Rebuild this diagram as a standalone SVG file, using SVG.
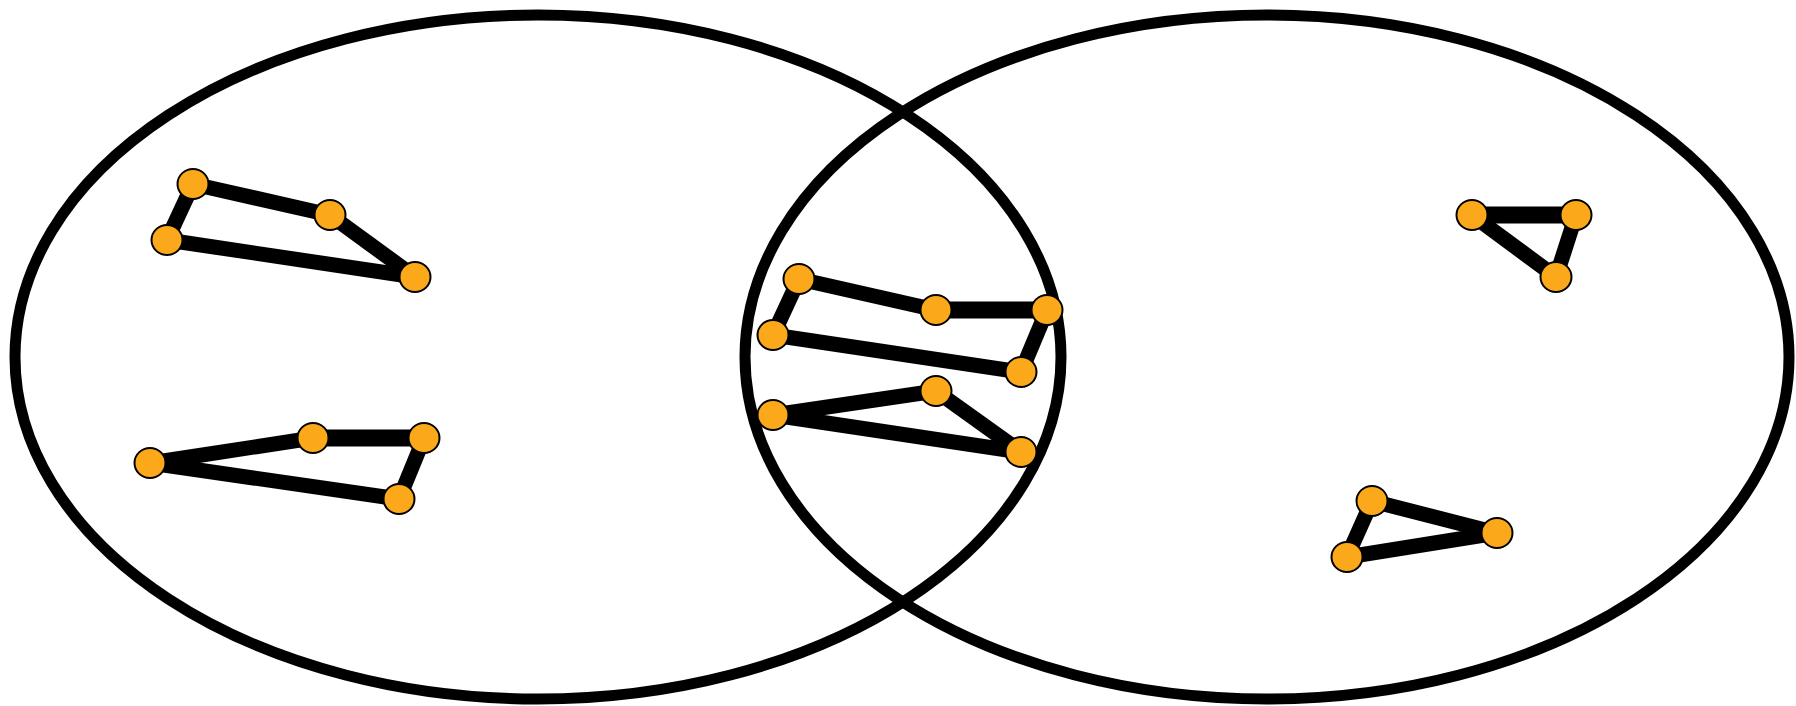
<svg xmlns="http://www.w3.org/2000/svg" width="1796" height="706" viewBox="0 0 1796 706">
<style>
.set{fill:none;stroke:#000;stroke-width:11}
.e{stroke:#000;stroke-width:15;stroke-linecap:butt}
.h{stroke-width:17}
.n{fill:#FBA81B;stroke:#000;stroke-width:2}
</style>
<rect width="1796" height="706" fill="#fff"/>
<g id="sets">
<ellipse id="set-left" class="set" cx="538" cy="357" rx="523" ry="342"/>
<ellipse id="set-right" class="set" cx="1267" cy="357" rx="522" ry="342"/>
</g>
<g id="connectors">
<line class="e" x1="193" y1="184" x2="330" y2="215"/>
<line class="e" x1="193" y1="184" x2="167" y2="240"/>
<line class="e" x1="167" y1="240" x2="415" y2="277"/>
<line class="e" x1="330" y1="215" x2="415" y2="277"/>
<line class="e" x1="150" y1="463" x2="313" y2="438"/>
<line class="e h" x1="313" y1="438" x2="424" y2="438"/>
<line class="e" x1="424" y1="438" x2="399" y2="499"/>
<line class="e" x1="150" y1="463" x2="399" y2="499"/>
<line class="e" x1="799" y1="279" x2="936" y2="310"/>
<line class="e h" x1="936" y1="310" x2="1047" y2="310"/>
<line class="e" x1="1047" y1="310" x2="1021" y2="372"/>
<line class="e" x1="799" y1="279" x2="773" y2="335"/>
<line class="e" x1="773" y1="335" x2="1021" y2="372"/>
<line class="e" x1="773" y1="415" x2="936" y2="391"/>
<line class="e" x1="936" y1="391" x2="1021" y2="452"/>
<line class="e" x1="773" y1="415" x2="1021" y2="452"/>
<line class="e h" x1="1472" y1="215" x2="1576" y2="215"/>
<line class="e" x1="1576" y1="215" x2="1556" y2="277"/>
<line class="e" x1="1472" y1="215" x2="1556" y2="277"/>
<line class="e" x1="1372" y1="501" x2="1497" y2="533"/>
<line class="e" x1="1372" y1="501" x2="1347" y2="557"/>
<line class="e" x1="1347" y1="557" x2="1497" y2="533"/>
</g>
<g id="node-a1"><ellipse class="n" cx="193" cy="184" rx="15.5" ry="15"/></g>
<g id="node-a2"><ellipse class="n" cx="330" cy="215" rx="15.5" ry="15"/></g>
<g id="node-a3"><ellipse class="n" cx="167" cy="240" rx="15.5" ry="15"/></g>
<g id="node-a4"><ellipse class="n" cx="415" cy="277" rx="15.5" ry="15"/></g>
<g id="node-b1"><ellipse class="n" cx="150" cy="463" rx="15.5" ry="15"/></g>
<g id="node-b2"><ellipse class="n" cx="313" cy="438" rx="15.5" ry="15"/></g>
<g id="node-b3"><ellipse class="n" cx="424" cy="438" rx="15.5" ry="15"/></g>
<g id="node-b4"><ellipse class="n" cx="399" cy="499" rx="15.5" ry="15"/></g>
<g id="node-m1"><ellipse class="n" cx="799" cy="279" rx="15.5" ry="15"/></g>
<g id="node-m2"><ellipse class="n" cx="936" cy="310" rx="15.5" ry="15"/></g>
<g id="node-m3"><ellipse class="n" cx="1047" cy="310" rx="15.5" ry="15"/></g>
<g id="node-m4"><ellipse class="n" cx="773" cy="335" rx="15.5" ry="15"/></g>
<g id="node-m5"><ellipse class="n" cx="1021" cy="372" rx="15.5" ry="15"/></g>
<g id="node-m6"><ellipse class="n" cx="936" cy="391" rx="15.5" ry="15"/></g>
<g id="node-m7"><ellipse class="n" cx="773" cy="415" rx="15.5" ry="15"/></g>
<g id="node-m8"><ellipse class="n" cx="1021" cy="452" rx="15.5" ry="15"/></g>
<g id="node-t1"><ellipse class="n" cx="1472" cy="215" rx="15.5" ry="15"/></g>
<g id="node-t2"><ellipse class="n" cx="1576" cy="215" rx="15.5" ry="15"/></g>
<g id="node-t3"><ellipse class="n" cx="1556" cy="277" rx="15.5" ry="15"/></g>
<g id="node-r1"><ellipse class="n" cx="1372" cy="501" rx="15.5" ry="15"/></g>
<g id="node-r2"><ellipse class="n" cx="1497" cy="533" rx="15.5" ry="15"/></g>
<g id="node-r3"><ellipse class="n" cx="1347" cy="557" rx="15.5" ry="15"/></g>
</svg>
